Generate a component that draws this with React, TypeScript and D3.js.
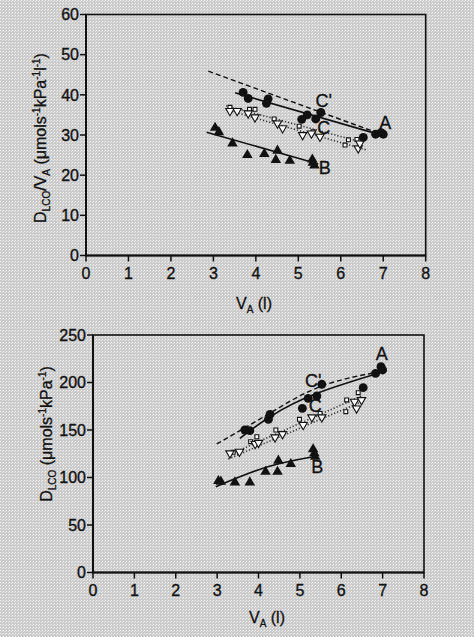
import * as d3 from "d3";

type Pt = [number, number];

// ---- top panel: DLCO/VA vs VA ----
const topCircles: Pt[] = [
  [3.7, 40.6], [3.82, 39.1], [4.29, 39.0], [4.25, 37.9], [5.08, 33.9], [5.21, 35.0],
  [5.41, 34.0], [5.53, 35.6], [6.53, 29.4], [6.82, 30.2], [6.95, 30.6], [7.0, 30.2],
];
const topTriangles: Pt[] = [
  [3.04, 31.8], [3.13, 30.7], [3.45, 27.9], [3.8, 25.0], [4.2, 25.3], [4.51, 26.1],
  [4.47, 23.8], [4.8, 23.6], [5.33, 23.9], [5.34, 23.1], [5.38, 22.4],
];
const topOpenTriangles: Pt[] = [
  [3.39, 36.0], [3.56, 36.0], [3.82, 35.4], [3.98, 34.4], [4.51, 32.9], [4.63, 31.7],
  [5.1, 30.0], [5.31, 30.4], [5.51, 29.6], [6.41, 26.7], [6.45, 27.9],
];
const topOpenSquares: Pt[] = [
  [3.39, 36.9], [3.85, 36.4], [3.98, 36.4], [4.43, 34.0], [5.02, 32.2], [5.35, 30.8],
  [6.1, 27.5], [6.18, 28.8], [6.38, 28.9],
];
const topFitA: Pt[] = [[3.51, 40.5], [7.08, 29.6]];
const topFitB: Pt[] = [[2.84, 30.7], [5.47, 22.8]];
const topFitCprime: Pt[] = [[2.88, 45.9], [7.0, 30.0]];
const topFitC1: Pt[] = [[3.3, 37.3], [6.5, 28.2]];
const topFitC2: Pt[] = [[3.3, 36.3], [6.6, 26.3]];
const topTags: [string, number, number][] = [
  ["C'", 5.6, 38.6], ["A", 7.05, 33.0], ["C", 5.6, 31.9], ["B", 5.62, 21.8],
];

// ---- bottom panel: DLCO vs VA ----
const botCircles: Pt[] = [
  [3.67, 150], [3.79, 149.3], [4.24, 161.2], [4.28, 166.5], [5.06, 172.8], [5.2, 183.3],
  [5.41, 185.8], [5.53, 198.1], [6.53, 194.6], [6.83, 209.6], [6.96, 216.6], [7.0, 213.2],
];
const botTriangles: Pt[] = [
  [3.03, 96.3], [3.09, 95.6], [3.43, 94.9], [3.79, 94.9], [4.17, 106.1], [4.48, 117.7],
  [4.46, 106.1], [4.78, 114.2], [5.32, 129.7], [5.35, 125.5], [5.37, 121.9],
];
const botOpenTriangles: Pt[] = [
  [3.31, 125.5], [3.54, 127.2], [3.92, 135.3], [4.0, 136.6], [4.4, 142.3], [4.58, 145.8],
  [5.08, 155.3], [5.29, 163.4], [5.53, 163.4], [6.32, 179.8], [6.37, 172.8], [6.49, 181.6],
];
const botOpenSquares: Pt[] = [
  [3.39, 126.5], [3.81, 137.7], [3.96, 142.9], [4.42, 150], [4.99, 161.2], [5.49, 167.5],
  [6.11, 169.3], [6.13, 181.6], [6.41, 189.3],
];
const botFitA: Pt[] = [[3.55, 141.2], [4.28, 164], [5.41, 188.6], [7.02, 211.4]];
const botFitB: Pt[] = [[2.97, 90.3], [4.2, 111], [5.32, 121.9]];
const botFitCprime: Pt[] = [[2.99, 135.3], [4.2, 165.8], [5.49, 195.6], [6.94, 211.4]];
const botFitC1: Pt[] = [[3.27, 123.5], [6.5, 186]];
const botFitC2: Pt[] = [[3.27, 119.5], [6.5, 180]];
const botTags: [string, number, number][] = [
  ["A", 6.98, 230.7], ["C'", 5.32, 202.6], ["C", 5.37, 175.3], ["B", 5.42, 111.4],
];

const xTicks = [0, 1, 2, 3, 4, 5, 6, 7, 8];
const topYTicks = [0, 10, 20, 30, 40, 50, 60];
const botYTicks = [0, 50, 100, 150, 200, 250];

const FONT = "Liberation Sans, Arial, Helvetica, sans-serif";

interface PanelProps {
  xRange: [number, number];
  yRange: [number, number];
  yMax: number;
  yTicks: number[];
  circles: Pt[];
  triangles: Pt[];
  openTri: Pt[];
  openSq: Pt[];
  fitA: Pt[];
  fitB: Pt[];
  fitCp: Pt[];
  fitC1: Pt[];
  fitC2: Pt[];
  tags: [string, number, number][];
  curved: boolean;
  xTitle: [number, number];
  yTitle: React.ReactNode;
}

function Panel(p: PanelProps) {
  const x = d3.scaleLinear().domain([0, 8]).range(p.xRange);
  const y = d3.scaleLinear().domain([0, p.yMax]).range(p.yRange);
  const line = d3
    .line<Pt>()
    .x(d => x(d[0]))
    .y(d => y(d[1]))
    .curve(p.curved ? d3.curveNatural : d3.curveLinear);
  const circ = d3.symbol().type(d3.symbolCircle).size(62)()!;
  const tri = d3.symbol().type(d3.symbolTriangle).size(48)()!;
  const otri = d3.symbol().type(d3.symbolTriangle).size(30)()!;
  const sq = d3.symbol().type(d3.symbolSquare).size(15)()!;
  const [x0, x1] = p.xRange;
  const [y0, y1] = p.yRange;
  return (
    <g fontFamily={FONT} fill="#111" stroke="none">
      {/* frame */}
      <rect x={x0} y={y1} width={x1 - x0} height={y0 - y1} fill="none" stroke="#111" strokeWidth={1.6} />
      <line x1={x0} x2={x0} y1={y1} y2={y0} stroke="#111" strokeWidth={2} />
      <line x1={x0} x2={x1} y1={y0} y2={y0} stroke="#111" strokeWidth={2} />
      {p.yTicks.map(t => (
        <g key={"y" + t}>
          <line x1={x0 - 6} x2={x0} y1={y(t)} y2={y(t)} stroke="#111" strokeWidth={1.5} />
          <text x={x0 - 7} y={y(t)} dy="0.36em" textAnchor="end" fontSize={16} stroke="#111" strokeWidth={0.35}>{t}</text>
        </g>
      ))}
      {xTicks.map(t => (
        <g key={"x" + t}>
          <line x1={x(t)} x2={x(t)} y1={y0} y2={y0 + 6} stroke="#111" strokeWidth={1.5} />
          <text x={x(t)} y={y0 + 17.5} dy="0.36em" textAnchor="middle" fontSize={16} stroke="#111" strokeWidth={0.35}>{t}</text>
        </g>
      ))}
      <text x={p.xTitle[0]} y={p.xTitle[1]} dy="0.36em" textAnchor="middle" fontSize={16} stroke="#111" strokeWidth={0.3}>
        V<tspan fontSize={10} dy="4">A</tspan><tspan dy="-4"> (l)</tspan>
      </text>
      {p.yTitle}
      {/* fitted lines */}
      <path d={line(p.fitCp)!} fill="none" stroke="#111" strokeWidth={1.4} strokeDasharray="5,3" />
      <path d={line(p.fitA)!} fill="none" stroke="#111" strokeWidth={1.6} />
      <path d={line(p.fitB)!} fill="none" stroke="#111" strokeWidth={1.6} />
      <path d={line(p.fitC1)!} fill="none" stroke="#333" strokeWidth={1.6} strokeDasharray="1.2,2" />
      <path d={line(p.fitC2)!} fill="none" stroke="#333" strokeWidth={1.6} strokeDasharray="1.2,2" />
      {/* points */}
      {p.openSq.map((d, i) => (
        <path key={"s" + i} d={sq} transform={`translate(${x(d[0])},${y(d[1])})`} fill="#fff" stroke="#111" strokeWidth={1.1} />
      ))}
      {p.openTri.map((d, i) => (
        <path key={"o" + i} d={otri} transform={`translate(${x(d[0])},${y(d[1])}) rotate(180)`} fill="#fff" stroke="#111" strokeWidth={1.1} />
      ))}
      {p.triangles.map((d, i) => (
        <path key={"t" + i} d={tri} transform={`translate(${x(d[0])},${y(d[1])})`} fill="#111" />
      ))}
      {p.circles.map((d, i) => (
        <path key={"c" + i} d={circ} transform={`translate(${x(d[0])},${y(d[1])})`} fill="#111" />
      ))}
      {p.tags.map(([s, a, b]) => (
        <text key={s} x={x(a)} y={y(b)} dy="0.36em" textAnchor="middle" fontSize={18} stroke="#111" strokeWidth={0.3}>{s}</text>
      ))}
    </g>
  );
}

export default function App() {
  return (
    <svg width={474} height={637} style={{ position: "absolute", left: 0, top: 0 }}>
      <defs>
        <pattern id="paper" width={3} height={3} patternUnits="userSpaceOnUse">
          <rect width={3} height={3} fill="#cbcbcb" />
          <rect x={0} y={0} width={1} height={1} fill="#f4f4f4" />
          <rect x={2} y={1} width={1} height={1} fill="#e6e6e6" />
        </pattern>
      </defs>
      <rect width={474} height={637} fill="url(#paper)" />
      <Panel
        xRange={[86, 425.7]}
        yRange={[255.5, 14.5]}
        yMax={60}
        yTicks={topYTicks}
        circles={topCircles}
        triangles={topTriangles}
        openTri={topOpenTriangles}
        openSq={topOpenSquares}
        fitA={topFitA}
        fitB={topFitB}
        fitCp={topFitCprime}
        fitC1={topFitC1}
        fitC2={topFitC2}
        tags={topTags}
        curved={false}
        xTitle={[254, 303]}
        yTitle={
          <text transform="translate(40,138) rotate(-90)" textAnchor="middle" dy="0.36em" fontSize={16} stroke="#111" strokeWidth={0.3}>
            D<tspan fontSize={10} dy="4">LCO</tspan><tspan dy="-4">/V</tspan><tspan fontSize={10} dy="4">A</tspan>
            <tspan dy="-4"> (μmols</tspan><tspan fontSize={10} dy="-6">-1</tspan><tspan dy="6">kPa</tspan>
            <tspan fontSize={10} dy="-6">-1</tspan><tspan dy="6">l</tspan><tspan fontSize={10} dy="-6">-1</tspan>
            <tspan dy="6">)</tspan>
          </text>
        }
      />
      <Panel
        xRange={[93, 424]}
        yRange={[572.5, 335]}
        yMax={250}
        yTicks={botYTicks}
        circles={botCircles}
        triangles={botTriangles}
        openTri={botOpenTriangles}
        openSq={botOpenSquares}
        fitA={botFitA}
        fitB={botFitB}
        fitCp={botFitCprime}
        fitC1={botFitC1}
        fitC2={botFitC2}
        tags={botTags}
        curved={true}
        xTitle={[267, 617]}
        yTitle={
          <text transform="translate(46,434) rotate(-90)" textAnchor="middle" dy="0.36em" fontSize={16} stroke="#111" strokeWidth={0.3}>
            D<tspan fontSize={10} dy="4">LCO</tspan>
            <tspan dy="-4"> (μmols</tspan><tspan fontSize={10} dy="-6">-1</tspan><tspan dy="6">kPa</tspan>
            <tspan fontSize={10} dy="-6">-1</tspan><tspan dy="6">)</tspan>
          </text>
        }
      />
    </svg>
  );
}
